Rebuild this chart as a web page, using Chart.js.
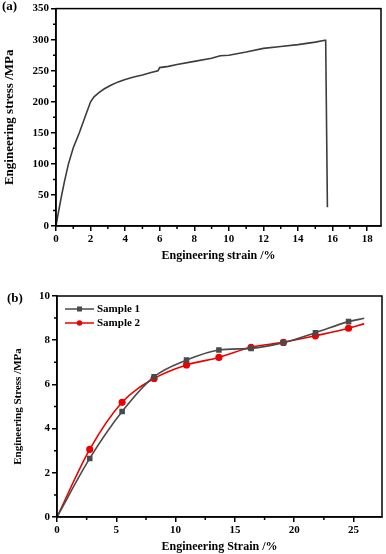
<!DOCTYPE html>
<html>
<head>
<meta charset="utf-8">
<script src="https://cdn.jsdelivr.net/npm/chart.js@4/dist/chart.umd.min.js"></script>
<style>
  body { margin: 0; background: #fff; }
  #wrap { position: relative; width: 386px; height: 554px; }
  canvas { position: absolute; left: 0; }
  .tag { position: absolute; font: bold 13px "Liberation Serif", serif; color: #000; }
</style>
</head>
<body>
<div id="wrap">
  <canvas id="chartA" width="386" height="266" style="top:0"></canvas>
  <canvas id="chartB" width="386" height="288" style="top:266px"></canvas>
  <div class="tag" style="left:2px; top:-2px">(a)</div>
  <div class="tag" style="left:7px; top:290px">(b)</div>
</div>
<script>
// (a) tensile curve
const strainA = [0, 0.1, 0.2, 0.33, 0.5, 0.72, 1.0, 1.35, 1.7, 2.0, 2.2, 2.5, 2.8, 3.2, 3.6, 4.0, 4.5, 5.0, 5.5, 5.9, 6.0, 6.5, 7.0, 8.0, 9.0, 9.5, 10.0, 11.0, 12.0, 13.0, 14.0, 15.0, 15.55, 15.6, 15.7];
const stressA = [0, 16, 31, 50, 73, 100, 126, 150, 177, 200, 208, 215, 221, 227, 232, 236, 240, 243, 247, 250, 255, 257, 260, 265, 270, 274, 275, 280, 286, 289, 292, 296, 299, 299, 30];
const ticksAx = [0, 2, 4, 6, 8, 10, 12, 14, 16, 18];
const ticksAy = [0, 50, 100, 150, 200, 250, 300, 350];

// (b) two samples
const strainB = [0, 2.76, 5.49, 8.19, 10.92, 13.65, 16.36, 19.09, 21.79, 24.58, 25.9];
const sample1 = [0, 2.65, 4.77, 6.35, 7.10, 7.56, 7.63, 7.89, 8.34, 8.84, 8.99];
const sample2 = [0, 3.06, 5.19, 6.27, 6.88, 7.22, 7.68, 7.90, 8.20, 8.54, 8.75];
const ticksBx = [0, 5, 10, 15, 20, 25];
const ticksBy = [0, 2, 4, 6, 8, 10];

const serif = "'Liberation Serif', 'Times New Roman', serif";

function pts(xs, ys) { return xs.map((x, i) => ({ x: x, y: ys[i] })); }

// frame + short minor ticks between the major ones
const framePlugin = {
  id: 'frame',
  afterDraw(chart) {
    const ctx = chart.ctx, a = chart.chartArea;
    const sx = chart.scales.x, sy = chart.scales.y;
    ctx.save();
    ctx.strokeStyle = '#000';
    ctx.lineWidth = 1.5;
    ctx.strokeRect(a.left, a.top, a.right - a.left, a.bottom - a.top);
    const mx = chart.options.minorX, my = chart.options.minorY;
    ctx.beginPath();
    for (let v = mx; v < sx.max; v += mx * 2) {
      const px = sx.getPixelForValue(v);
      ctx.moveTo(px, a.bottom); ctx.lineTo(px, a.bottom + 3);
    }
    for (let v = my; v < sy.max; v += my * 2) {
      const py = sy.getPixelForValue(v);
      ctx.moveTo(a.left, py); ctx.lineTo(a.left - 3, py);
    }
    ctx.stroke();
    ctx.restore();
  }
};

// legend drawn inside the plot, top left
const legendPlugin = {
  id: 'innerLegend',
  afterDraw(chart) {
    if (!chart.options.innerLegend) return;
    const ctx = chart.ctx, a = chart.chartArea;
    ctx.save();
    ctx.font = 'bold 11px ' + serif;
    ctx.textBaseline = 'middle';
    chart.data.datasets.forEach((ds, i) => {
      const y = a.top + 13 + i * 14;
      const x0 = a.left + 8, x1 = a.left + 37;
      ctx.strokeStyle = ds.borderColor;
      ctx.lineWidth = 1.5;
      ctx.beginPath(); ctx.moveTo(x0, y); ctx.lineTo(x1, y); ctx.stroke();
      ctx.fillStyle = ds.borderColor;
      const cx = (x0 + x1) / 2;
      if (ds.pointStyle === 'rect') ctx.fillRect(cx - 2.5, y - 2.5, 5, 5);
      else { ctx.beginPath(); ctx.arc(cx, y, 2.7, 0, Math.PI * 2); ctx.fill(); }
      ctx.fillStyle = '#000';
      ctx.fillText(ds.label, x1 + 3, y);
    });
    ctx.restore();
  }
};

function axis(min, max, ticks, title, titleSize, titlePad, fix, isX) {
  return {
    type: 'linear', min: min, max: max,
    afterBuildTicks: s => { s.ticks = ticks.map(v => ({ value: v })); },
    afterFit: s => { if (isX) s.height = fix; else s.width = fix; },
    grid: { drawOnChartArea: false, color: '#000', lineWidth: 1.5, tickLength: 5 },
    border: { color: '#000', width: 1.5 },
    ticks: { color: '#000', font: { family: serif, size: 11, weight: 'bold' }, padding: 2, maxRotation: 0, autoSkip: false },
    title: { display: true, text: title, color: '#000', font: { family: serif, size: titleSize, weight: 'bold' }, padding: titlePad }
  };
}

new Chart(document.getElementById('chartA'), {
  type: 'line',
  data: {
    datasets: [{
      data: pts(strainA, stressA),
      borderColor: '#3c3c3c', borderWidth: 1.6, pointRadius: 0, tension: 0
    }]
  },
  options: {
    responsive: false, animation: false,
    minorX: 1, minorY: 25,
    layout: { padding: { top: 5, right: 5, left: 0, bottom: 0 } },
    plugins: { legend: { display: false }, tooltip: { enabled: false } },
    scales: {
      x: axis(0, 18.8, ticksAx, 'Engineering strain /%', 12, { top: 0, bottom: 3 }, 40, true),
      y: axis(0, 350, ticksAy, 'Engineering stress /MPa', 13, { top: 2, bottom: 0 }, 56, false)
    }
  },
  plugins: [framePlugin]
});

new Chart(document.getElementById('chartB'), {
  type: 'line',
  data: {
    datasets: [{
      label: 'Sample 1',
      data: pts(strainB, sample1),
      borderColor: '#4a4a4a', backgroundColor: '#4a4a4a', borderWidth: 1.6,
      pointStyle: 'rect', pointRadius: strainB.map((x, i) => (i === 0 || i === strainB.length - 1) ? 0 : 2.8),
      cubicInterpolationMode: 'monotone'
    }, {
      label: 'Sample 2',
      data: pts(strainB, sample2),
      borderColor: '#ee0000', backgroundColor: '#ee0000', borderWidth: 1.6,
      pointStyle: 'circle', pointRadius: strainB.map((x, i) => (i === 0 || i === strainB.length - 1) ? 0 : 2.8),
      cubicInterpolationMode: 'monotone'
    }]
  },
  options: {
    responsive: false, animation: false,
    minorX: 2.5, minorY: 1,
    innerLegend: true,
    layout: { padding: { top: 30, right: 4, left: 0, bottom: 0 } },
    plugins: { legend: { display: false }, tooltip: { enabled: false } },
    scales: {
      x: axis(0, 27.4, ticksBx, 'Engineering Strain /%', 12, { top: 0, bottom: 0 }, 37, true),
      y: axis(0, 10, ticksBy, 'Engineering Stress /MPa', 11, { top: 12, bottom: 0 }, 57, false)
    }
  },
  plugins: [framePlugin, legendPlugin]
});
</script>
</body>
</html>
